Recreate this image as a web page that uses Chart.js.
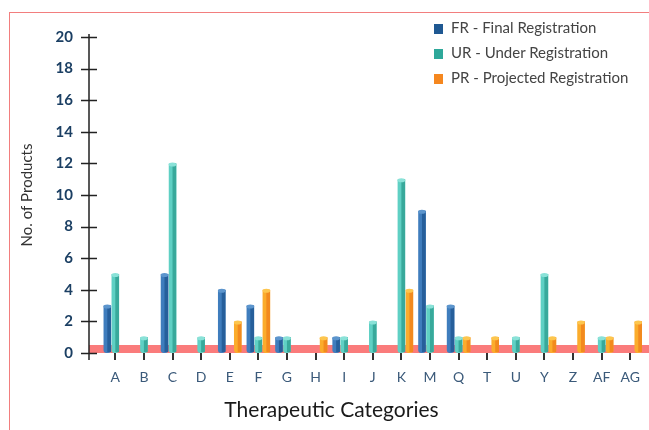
<!DOCTYPE html>
<html>
<head>
<meta charset="utf-8">
<script src="https://cdn.jsdelivr.net/npm/chart.js@4"></script>
<style>
  body { margin: 0; background: #fff; }
  #wrap { position: relative; width: 649px; height: 430px; overflow: hidden; }
  #frame { position: absolute; left: 9px; top: 12px; width: 700px; height: 500px;
           border-left: 1.5px solid #f27e7e; border-top: 1.5px solid #f27e7e; pointer-events: none; }
  #legend { position: absolute; left: 434px; top: 17px; font-family: Lato, sans-serif; font-size: 15px; color: #444; }
  #legend div { height: 25px; line-height: 20px; white-space: nowrap; }
  #legend span { display: inline-block; width: 9px; height: 10px; margin-right: 8px; vertical-align: -1px; }
</style>
</head>
<body>
<div id="wrap">
  <canvas id="chartBar" width="649" height="430"></canvas>
  <div id="frame"></div>
  <div id="legend"></div>
</div>
<script>
var categories = ['A', 'B', 'C', 'D', 'E', 'F', 'G', 'H', 'I', 'J', 'K', 'M', 'Q', 'T', 'U', 'Y', 'Z', 'AF', 'AG'];
var finalReg     = [3, 0, 5, 0, 4, 3, 1, 0, 1, 0, 0, 9, 3, 0, 0, 0, 0, 0, 0];
var underReg     = [5, 1, 12, 1, 0, 1, 1, 0, 1, 2, 11, 3, 1, 0, 1, 5, 0, 1, 0];
var projectedReg = [0, 0, 0, 0, 2, 4, 0, 1, 0, 0, 4, 0, 1, 1, 0, 1, 2, 1, 2];
var yTicks = [0, 2, 4, 6, 8, 10, 12, 14, 16, 18, 20];

// light / dark / cap / legend colours per series
var shades = [
    { light: '#3f7dbd', dark: '#265f9b', cap: '#5c95cd', key: '#1f5892' },
    { light: '#5fd0c4', dark: '#38a99b', cap: '#8ae2d8', key: '#2ea89a' },
    { light: '#fbac2c', dark: '#f28a1e', cap: '#fdc64e', key: '#f5871f' }
];

// red band + y axis with crossing ticks, then shading on the bars
var axisDeco = {
    id: 'axisDeco',
    beforeDatasetsDraw: function (chart) {
        var ctx = chart.ctx, y = chart.scales.y;
        var zero = y.getPixelForValue(0);
        var ax = chart.chartArea.left - 12;
        ctx.save();
        ctx.fillStyle = '#fa7b7b';
        ctx.fillRect(ax, zero - 8, chart.width - ax, 8);
        ctx.strokeStyle = '#222';
        ctx.lineWidth = 1.5;
        ctx.beginPath();
        ctx.moveTo(ax, y.getPixelForValue(20) - 3);
        ctx.lineTo(ax, zero + 7);
        yTicks.forEach(function (t) {
            var py = Math.round(y.getPixelForValue(t)) + 0.5;
            ctx.moveTo(ax - 8, py);
            ctx.lineTo(ax + 8, py);
        });
        ctx.stroke();
        ctx.restore();
    },
    afterDatasetsDraw: function (chart) {
        var ctx = chart.ctx;
        ctx.save();
        chart.data.datasets.forEach(function (ds, i) {
            var meta = chart.getDatasetMeta(i);
            meta.data.forEach(function (bar, j) {
                if (!ds.data[j]) return;
                var p = bar.getProps(['x', 'y', 'base', 'width'], true);
                ctx.fillStyle = shades[i].dark;
                ctx.fillRect(p.x, p.y, p.width / 2, p.base - p.y - 1);
                ctx.fillStyle = shades[i].cap;
                ctx.beginPath();
                ctx.ellipse(p.x, p.y + 1, p.width / 2, 2, 0, 0, Math.PI * 2);
                ctx.fill();
            });
        });
        ctx.restore();
    }
};

var ourBar = document.getElementById('chartBar');

var barChart = new Chart(ourBar, {
    type: 'bar',
    data: {
        labels: categories,
        datasets: [
            { label: 'FR - Final Registration', data: finalReg, backgroundColor: shades[0].light },
            { label: 'UR - Under Registration', data: underReg, backgroundColor: shades[1].light },
            { label: 'PR - Projected Registration', data: projectedReg, backgroundColor: shades[2].light }
        ]
    },
    options: {
        responsive: false,
        maintainAspectRatio: false,
        animation: false,
        categoryPercentage: 0.84,
        barPercentage: 0.94,
        borderRadius: { bottomLeft: 3, bottomRight: 3 },
        borderSkipped: false,
        layout: { autoPadding: false, padding: { top: 32, left: 16, right: 2, bottom: 7 } },
        plugins: {
            legend: { display: false },
            tooltip: { enabled: false },
            title: {
                display: true,
                position: 'bottom',
                text: 'Therapeutic Categories',
                color: '#1a1a1a',
                font: { family: 'Lato', size: 21, weight: 'normal' },
                padding: { top: 3, bottom: 0 }
            }
        },
        scales: {
            x: {
                grid: { drawOnChartArea: false, offset: false, tickLength: 7, color: '#333', lineWidth: 2 },
                border: { display: false },
                ticks: { padding: 9, color: '#3b5a7a', font: { family: 'Lato', size: 14 } }
            },
            y: {
                min: 0,
                max: 20,
                afterFit: function (scale) { scale.width = 85; },
                afterBuildTicks: function (scale) {
                    scale.ticks = yTicks.map(function (v) { return { value: v }; });
                },
                grid: { display: false, drawTicks: false },
                border: { display: false },
                ticks: { padding: 28, color: '#1b3f63', font: { family: 'Lato', size: 15, weight: 'bold' } },
                title: {
                    display: true,
                    text: 'No. of Products',
                    color: '#333',
                    font: { family: 'Lato', size: 15 },
                    padding: { top: 2, bottom: 4 }
                }
            }
        }
    },
    plugins: [axisDeco]
});

// html legend from the datasets
var legend = document.getElementById('legend');
barChart.data.datasets.forEach(function (ds, i) {
    var row = document.createElement('div');
    var box = document.createElement('span');
    box.style.background = shades[i].key;
    row.appendChild(box);
    row.appendChild(document.createTextNode(ds.label));
    legend.appendChild(row);
});
</script>
</body>
</html>
